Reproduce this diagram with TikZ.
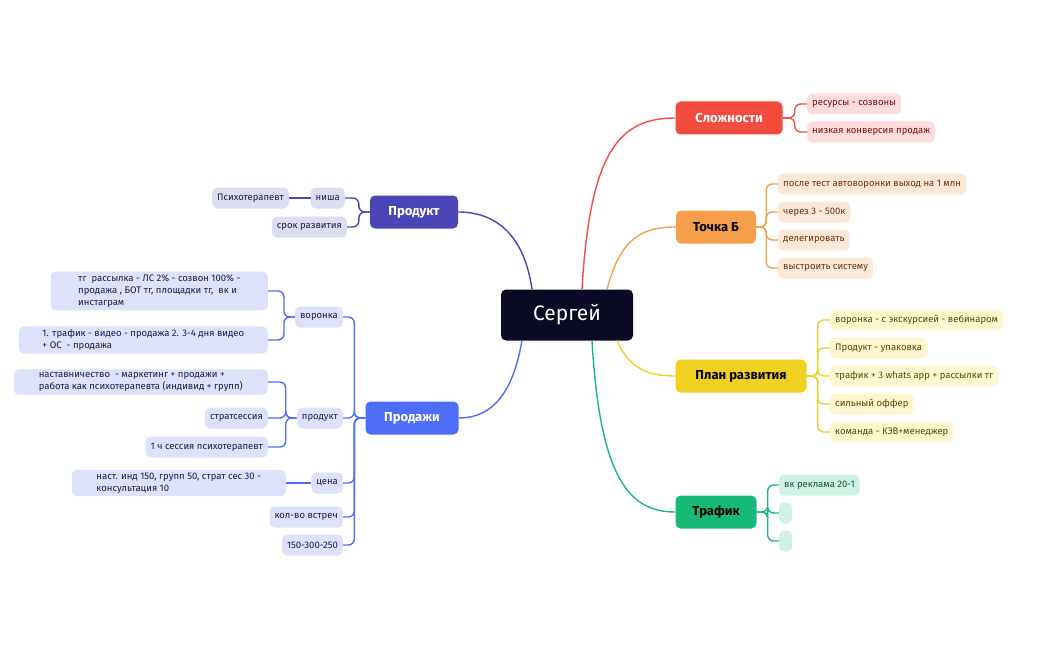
\documentclass[tikz,border=0pt]{standalone}
\usepackage{fontspec}
\setmainfont{Fira Sans}
\usetikzlibrary{calc}
\definecolor{cen}{HTML}{0B0B26}
\definecolor{cR}{HTML}{F44B3F}\definecolor{lR}{HTML}{FDDCDC}\definecolor{tR}{HTML}{7A1010}
\definecolor{cO}{HTML}{F59E4C}\definecolor{lO}{HTML}{FDE8D8}\definecolor{tO}{HTML}{6A3410}
\definecolor{cY}{HTML}{F0D020}\definecolor{lY}{HTML}{FDF6D0}\definecolor{tY}{HTML}{5A4A00}
\definecolor{cG}{HTML}{17B978}\definecolor{lG}{HTML}{D0F2E4}\definecolor{tG}{HTML}{0A5A3A}
\definecolor{cP}{HTML}{4B45B8}\definecolor{lP}{HTML}{DDDDF2}
\definecolor{cB}{HTML}{4F6EF7}\definecolor{lB}{HTML}{DDE1FB}\definecolor{tB}{HTML}{1A1F4A}
\begin{document}
\begin{tikzpicture}[x=1pt,y=-1pt,
 main/.style={rounded corners=5,inner xsep=12,minimum height=33,font=\fontsize{13}{15}\selectfont\bfseries},
 leaf/.style={rounded corners=5,inner xsep=5,inner ysep=3,minimum height=21,font=\fontsize{9.5}{12}\selectfont,align=left},
 con/.style={line width=1.4,rounded corners=6}]
\useasboundingbox (0,0) rectangle (1049,650);
\node[fill=cen,text=white,rounded corners=5,minimum width=132,minimum height=51,font=\fontsize{21}{24}\selectfont] (c) at (567,315) {Сергей};
\node[main,fill=cR,text=white,minimum width=107] (slo) at (729,118) {Сложности};
\node[main,fill=cO,text=black,minimum width=80] (tb) at (716,227) {Точка Б};
\node[main,fill=cY,text=black,minimum width=131] (pl) at (741,376) {План развития};
\node[main,fill=cG,text=black,minimum width=81] (tr) at (716,512) {Трафик};
\node[main,fill=cP,text=white,minimum width=88] (pr) at (414,212) {Продукт};
\node[main,fill=cB,text=white,minimum width=93] (sa) at (412,418) {Продажи};
\draw[cR,line width=1.4] ($(c.north)+(15,0)$) .. controls (590,150) and (620,118) .. (slo.west);
\draw[cO,line width=1.4] ($(c.north)+(40,0)$) .. controls (620,240) and (640,227) .. (tb.west);
\draw[cY,line width=1.4] ($(c.south)+(50,0)$) .. controls (630,370) and (650,376) .. (pl.west);
\draw[cG,line width=1.4] ($(c.south)+(25,0)$) .. controls (600,480) and (630,512) .. (tr.west);
\draw[cP,line width=1.4] ($(c.north)+(-35,0)$) .. controls (525,240) and (500,212) .. (pr.east);
\draw[cB,line width=1.4] ($(c.south)+(-45,0)$) .. controls (515,380) and (500,418) .. (sa.east);
\node[leaf,fill=lR,text=tR,anchor=west] (s1) at (807,104) {ресурсы - созвоны};
\node[leaf,fill=lR,text=tR,anchor=west] (s2) at (807,132) {низкая конверсия продаж};
\foreach \n in {s1,s2} \draw[con,cR] (slo.east) -- ++(12,0) |- (\n.west);
\node[leaf,fill=lO,text=tO,anchor=west] (o1) at (778,184) {после тест автоворонки выход на 1 млн};
\node[leaf,fill=lO,text=tO,anchor=west] (o2) at (778,212) {через 3 - 500к};
\node[leaf,fill=lO,text=tO,anchor=west] (o3) at (778,240) {делегировать};
\node[leaf,fill=lO,text=tO,anchor=west] (o4) at (778,268) {выстроить систему};
\foreach \n in {o1,o2,o3,o4} \draw[con,cO] (tb.east) -- ++(10,0) |- (\n.west);
\node[leaf,fill=lY,text=tY,anchor=west] (y1) at (830,320) {воронка - с экскурсией - вебинаром};
\node[leaf,fill=lY,text=tY,anchor=west] (y2) at (830,348) {Продукт - упаковка};
\node[leaf,fill=lY,text=tY,anchor=west] (y3) at (830,376) {трафик + 3 whats app + рассылки тг};
\node[leaf,fill=lY,text=tY,anchor=west] (y4) at (830,404) {сильный оффер};
\node[leaf,fill=lY,text=tY,anchor=west] (y5) at (830,432) {команда - КЭВ+менеджер};
\foreach \n in {y1,y2,y3,y4,y5} \draw[con,cY] (pl.east) -- ++(11,0) |- (\n.west);
\node[leaf,fill=lG,text=tG,anchor=west] (g1) at (779,485) {вк реклама 20-1};
\node[leaf,fill=lG,anchor=west,minimum width=13] (g2) at (779,513) {};
\node[leaf,fill=lG,anchor=west,minimum width=13] (g3) at (779,541) {};
\foreach \n in {g1,g2,g3} \draw[con,cG] (tr.east) -- ++(11,0) |- (\n.west);
\node[leaf,fill=lP,text=tB,anchor=east] (p1) at (345,198) {ниша};
\node[leaf,fill=lP,text=tB,anchor=east] (p2) at (347,227) {срок развития};
\node[leaf,fill=lP,text=tB,anchor=east] (p3) at (289,198) {Психотерапевт};
\foreach \n in {p1,p2} \draw[con,cP] (pr.west) -- ++(-11,0) |- (\n.east);
\draw[con,cP] (p1.west) -- (p3.east);
\node[leaf,fill=lB,text=tB,anchor=east] (b1) at (343,317) {воронка};
\node[leaf,fill=lB,text=tB,anchor=east] (b2) at (343,418) {продукт};
\node[leaf,fill=lB,text=tB,anchor=east] (b3) at (343,483) {цена};
\node[leaf,fill=lB,text=tB,anchor=east] (b4) at (343,517) {кол-во встреч};
\node[leaf,fill=lB,text=tB,anchor=east] (b5) at (343,545) {150-300-250};
\foreach \n in {b1,b2,b3,b4,b5} \draw[con,cB] (sa.west) -- ++(-11,0) |- (\n.east);
\node[leaf,fill=lB,text=tB,anchor=east,minimum width=217] (v1) at (268,291) {тг\ \ рассылка - ЛС 2\% - созвон 100\% -\\продажа , БОТ тг, площадки тг,\ \ вк и\\инстаграм};
\node[leaf,fill=lB,text=tB,anchor=east,minimum width=249] (v2) at (268,340) {1. трафик - видео - продажа 2. 3-4 дня видео\\+ ОС\ \ - продажа};
\foreach \n in {v1,v2} \draw[con,cB] (b1.west) -- ++(-11,0) |- (\n.east);
\node[leaf,fill=lB,text=tB,anchor=east,minimum width=254] (u1) at (268,382) {наставничество\ \ - маркетинг + продажи +\\работа как психотерапевта (индивид + групп)};
\node[leaf,fill=lB,text=tB,anchor=east] (u2) at (268,418) {стратсессия};
\node[leaf,fill=lB,text=tB,anchor=east] (u3) at (268,447) {1 ч сессия психотерапевт};
\foreach \n in {u1,u2,u3} \draw[con,cB] (b2.west) -- ++(-11,0) |- (\n.east);
\node[leaf,fill=lB,text=tB,anchor=east,minimum width=214] (w1) at (286,483) {наст. инд 150, групп 50, страт сес 30 -\\консультация 10};
\draw[con,cB] (b3.west) -- (w1.east);
\end{tikzpicture}
\end{document}
